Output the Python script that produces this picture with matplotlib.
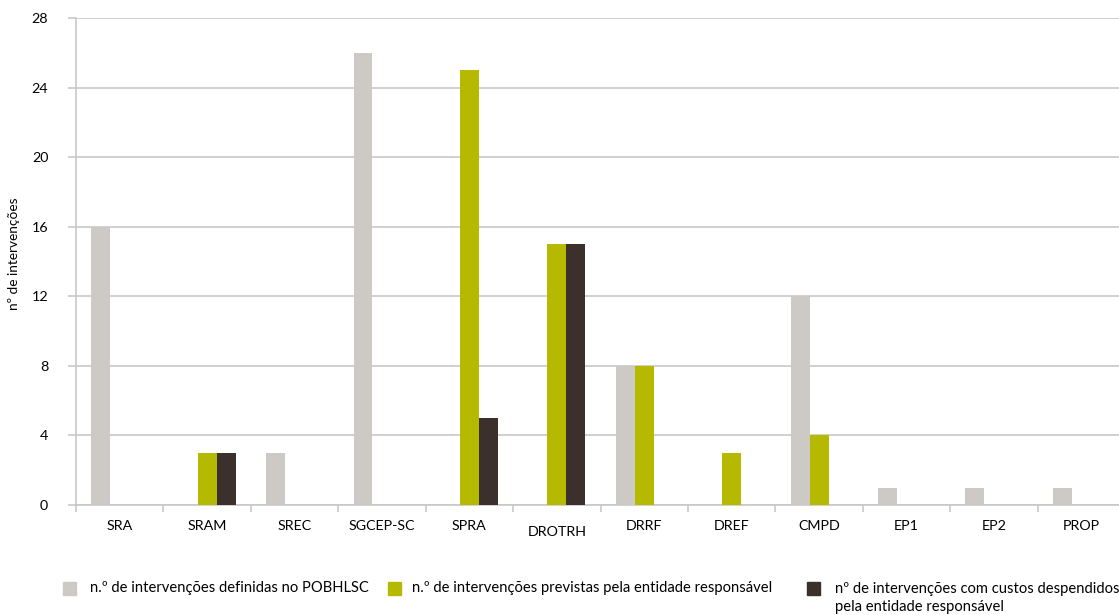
import numpy as np
import matplotlib
matplotlib.use("Agg")
import matplotlib.pyplot as plt
from matplotlib.patches import Rectangle

plt.rcParams['font.family'] = ['Lato', 'DejaVu Sans']

categories = ["SRA", "SRAM", "SREC", "SGCEP-SC", "SPRA", "DROTRH",
              "DRRF", "DREF", "CMPD", "EP1", "EP2", "PROP"]
definidas = [16, 0, 3, 26, 0, 0, 8, 0, 12, 1, 1, 1]
previstas = [0, 3, 0, 0, 25, 15, 8, 3, 4, 0, 0, 0]
despendidos = [0, 3, 0, 0, 5, 15, 0, 0, 0, 0, 0, 0]

labels = ["n.º de intervenções definidas no POBHLSC",
          "n.º de intervenções previstas pela entidade responsável",
          "nº de intervenções com custos despendidos\npela entidade responsável"]
colors = ["#CDC9C4", "#B5BA00", "#3C302D"]
grid_col = "#C8C8C8"

W, H = 1119, 615
fig = plt.figure(figsize=(W / 100, H / 100), dpi=100)
ax = fig.add_axes([76/W, 1 - 505/H, 1049/W, 487/H])

x = np.arange(len(categories))
w = 0.217
for off, vals, c in zip([-w, 0, w], [definidas, previstas, despendidos], colors):
    ax.bar(x + off, vals, width=w, color=c, zorder=3)

ax.set_xlim(-0.5, len(categories) - 0.5)
ax.set_ylim(0, 28)
ax.set_yticks(range(0, 29, 4))
ax.yaxis.grid(True, color=grid_col, linewidth=1.2, zorder=0)

ax.set_xticks(x)
ax.set_xticklabels(categories, fontsize=10.3)
ax.tick_params(axis='x', length=0, pad=11)
ax.set_xticks(np.arange(-0.5, len(categories)), minor=True)
ax.tick_params(axis='x', which='minor', length=5, color=grid_col, width=1.2)
ax.tick_params(axis='y', length=6, color=grid_col, width=1.2, labelsize=10.3, pad=14)
# the DROTRH label sits a little lower
ax.get_xticklabels()[5].set_y(-0.012)

for s in ['top', 'right']:
    ax.spines[s].set_visible(False)
for s in ['left', 'bottom']:
    ax.spines[s].set_color(grid_col)
    ax.spines[s].set_linewidth(1.2)

ax.set_ylabel("nº de intervenções", fontsize=9.8)
ax.yaxis.set_label_coords(-56/1049, 0.515)

# legend along the bottom
leg_x = [63, 388, 807]
txt_x = [90, 412, 835]
for lx, tx, lab, c in zip(leg_x, txt_x, labels, colors):
    fig.patches.append(Rectangle((lx/W, 1 - 595/H), 13/W, 13/H,
                                 transform=fig.transFigure, color=c))
    if '\n' in lab:
        fig.text(tx/W, 1 - 582/H, lab, fontsize=10.6, va='top', ha='left',
                 linespacing=1.4)
    else:
        fig.text(tx/W, 1 - 588/H, lab, fontsize=10.6, va='center', ha='left')

fig.savefig("out.png", dpi=100)
